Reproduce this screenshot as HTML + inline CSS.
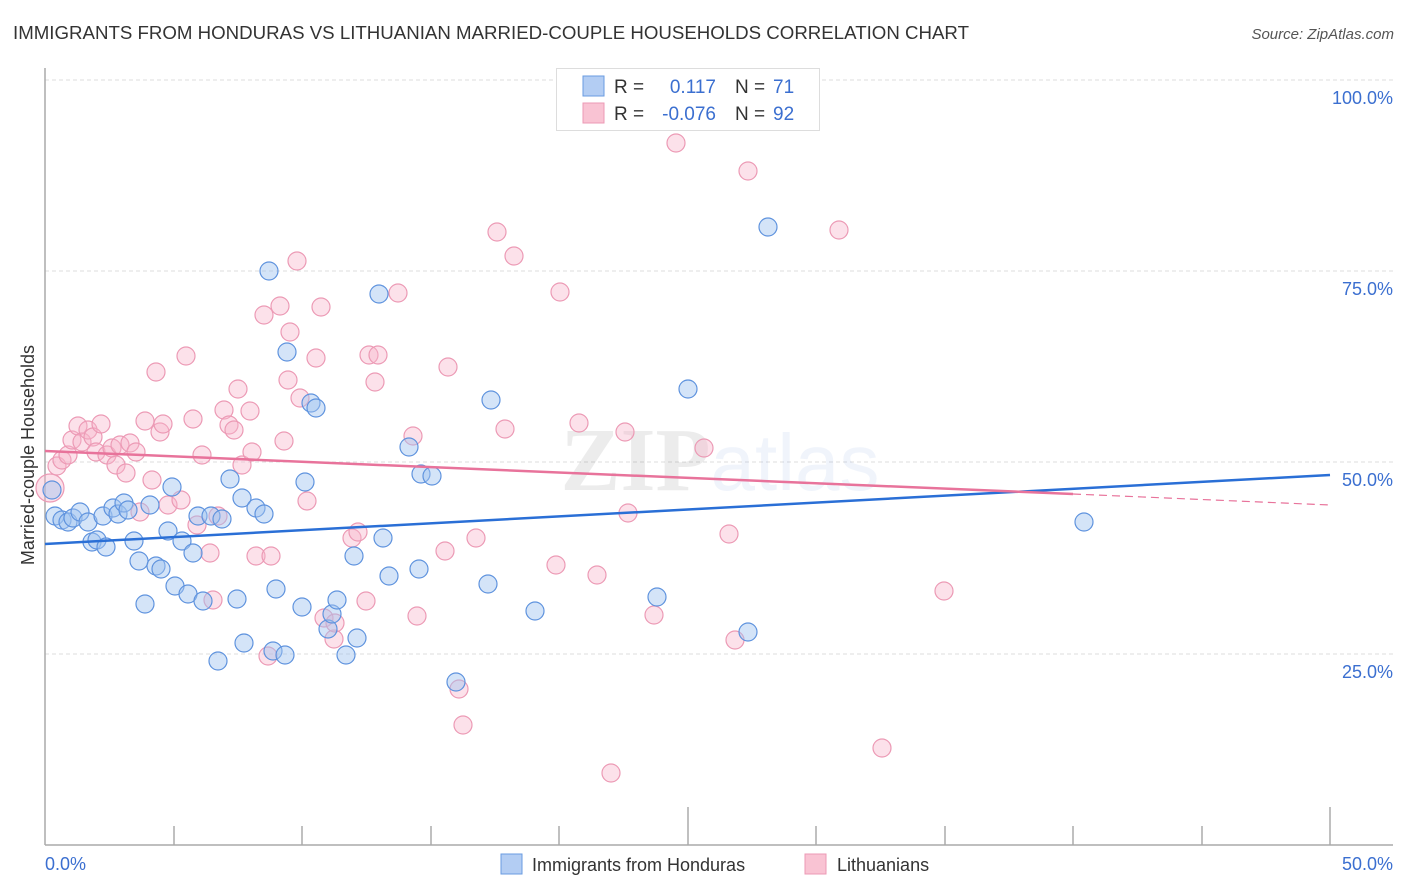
<!DOCTYPE html>
<html><head><meta charset="utf-8"><style>
html,body{margin:0;padding:0;background:#fff;}
svg{display:block;font-family:"Liberation Sans",sans-serif;}
</style></head><body>
<svg width="1406" height="892" viewBox="0 0 1406 892" xmlns="http://www.w3.org/2000/svg">
<text x="13" y="39" font-size="18" fill="#333" textLength="956" lengthAdjust="spacingAndGlyphs">IMMIGRANTS FROM HONDURAS VS LITHUANIAN MARRIED-COUPLE HOUSEHOLDS CORRELATION CHART</text>
<text x="1394" y="39" font-size="15" fill="#555" font-style="italic" text-anchor="end">Source: ZipAtlas.com</text>
<g stroke="#ddd" stroke-dasharray="4,3" stroke-width="1">
<line x1="45" y1="80" x2="1393" y2="80"/><line x1="45" y1="271" x2="1393" y2="271"/>
<line x1="45" y1="462" x2="1393" y2="462"/><line x1="45" y1="654" x2="1393" y2="654"/>
</g>
<line x1="45" y1="68" x2="45" y2="845" stroke="#aaa" stroke-width="1.5"/>
<line x1="45" y1="845" x2="1393" y2="845" stroke="#aaa" stroke-width="1.5"/>
<g stroke="#aaa" stroke-width="1.5">
<line x1="174" y1="826" x2="174" y2="845"/><line x1="302" y1="826" x2="302" y2="845"/><line x1="431" y1="826" x2="431" y2="845"/><line x1="559" y1="826" x2="559" y2="845"/><line x1="688" y1="807" x2="688" y2="845"/><line x1="816" y1="826" x2="816" y2="845"/><line x1="945" y1="826" x2="945" y2="845"/><line x1="1073" y1="826" x2="1073" y2="845"/><line x1="1202" y1="826" x2="1202" y2="845"/><line x1="1330" y1="807" x2="1330" y2="845"/>
</g>
<text x="720" y="490" font-size="90" fill="#000" opacity="0.07" text-anchor="middle" font-family="Liberation Serif,serif" font-weight="bold">ZIP<tspan font-family="Liberation Sans,sans-serif" font-weight="normal" fill="#3b6fd0" font-size="80">atlas</tspan></text>
<g fill="#3b6fd0" font-size="18" text-anchor="end">
<text x="1393" y="104">100.0%</text><text x="1393" y="295">75.0%</text><text x="1393" y="486">50.0%</text><text x="1393" y="678">25.0%</text><text x="1393" y="870">50.0%</text>
</g>
<text x="45" y="870" font-size="18" fill="#3b6fd0">0.0%</text>
<text transform="translate(34,455) rotate(-90)" font-size="18" fill="#333" text-anchor="middle">Married-couple Households</text>
<g fill="rgba(247,180,202,0.4)" stroke="#ec9ab5" stroke-width="1.2">
<circle cx="50" cy="488" r="14"/>
<circle cx="57" cy="466" r="9"/><circle cx="62" cy="460" r="9"/><circle cx="68" cy="455" r="9"/><circle cx="72" cy="440" r="9"/><circle cx="78" cy="426" r="9"/><circle cx="82" cy="442" r="9"/><circle cx="88" cy="430" r="9"/><circle cx="93" cy="437" r="9"/><circle cx="96" cy="452" r="9"/><circle cx="101" cy="424" r="9"/><circle cx="107" cy="455" r="9"/><circle cx="112" cy="448" r="9"/><circle cx="116" cy="465" r="9"/><circle cx="120" cy="445" r="9"/><circle cx="126" cy="473" r="9"/><circle cx="130" cy="443" r="9"/><circle cx="136" cy="452" r="9"/><circle cx="140" cy="512" r="9"/><circle cx="145" cy="421" r="9"/><circle cx="152" cy="480" r="9"/><circle cx="156" cy="372" r="9"/><circle cx="160" cy="432" r="9"/><circle cx="163" cy="424" r="9"/><circle cx="168" cy="505" r="9"/><circle cx="181" cy="500" r="9"/><circle cx="186" cy="356" r="9"/><circle cx="193" cy="419" r="9"/><circle cx="197" cy="525" r="9"/><circle cx="202" cy="455" r="9"/><circle cx="210" cy="553" r="9"/><circle cx="213" cy="600" r="9"/><circle cx="218" cy="516" r="9"/><circle cx="224" cy="410" r="9"/><circle cx="229" cy="425" r="9"/><circle cx="234" cy="430" r="9"/><circle cx="238" cy="389" r="9"/><circle cx="242" cy="465" r="9"/><circle cx="250" cy="411" r="9"/><circle cx="252" cy="452" r="9"/><circle cx="256" cy="556" r="9"/><circle cx="264" cy="315" r="9"/><circle cx="268" cy="656" r="9"/><circle cx="271" cy="556" r="9"/><circle cx="280" cy="306" r="9"/><circle cx="284" cy="441" r="9"/><circle cx="288" cy="380" r="9"/><circle cx="290" cy="332" r="9"/><circle cx="297" cy="261" r="9"/><circle cx="300" cy="398" r="9"/><circle cx="307" cy="501" r="9"/><circle cx="316" cy="358" r="9"/><circle cx="321" cy="307" r="9"/><circle cx="324" cy="618" r="9"/><circle cx="334" cy="639" r="9"/><circle cx="335" cy="623" r="9"/><circle cx="352" cy="538" r="9"/><circle cx="358" cy="532" r="9"/><circle cx="366" cy="601" r="9"/><circle cx="369" cy="355" r="9"/><circle cx="375" cy="382" r="9"/><circle cx="378" cy="355" r="9"/><circle cx="398" cy="293" r="9"/><circle cx="413" cy="436" r="9"/><circle cx="417" cy="616" r="9"/><circle cx="445" cy="551" r="9"/><circle cx="448" cy="367" r="9"/><circle cx="459" cy="689" r="9"/><circle cx="463" cy="725" r="9"/><circle cx="476" cy="538" r="9"/><circle cx="497" cy="232" r="9"/><circle cx="505" cy="429" r="9"/><circle cx="514" cy="256" r="9"/><circle cx="556" cy="565" r="9"/><circle cx="560" cy="292" r="9"/><circle cx="579" cy="423" r="9"/><circle cx="597" cy="575" r="9"/><circle cx="611" cy="773" r="9"/><circle cx="625" cy="432" r="9"/><circle cx="628" cy="513" r="9"/><circle cx="654" cy="615" r="9"/><circle cx="676" cy="143" r="9"/><circle cx="704" cy="448" r="9"/><circle cx="729" cy="534" r="9"/><circle cx="735" cy="640" r="9"/><circle cx="748" cy="171" r="9"/><circle cx="839" cy="230" r="9"/><circle cx="882" cy="748" r="9"/><circle cx="944" cy="591" r="9"/>
</g>
<g fill="rgba(160,195,240,0.45)" stroke="#5f93de" stroke-width="1.2">
<circle cx="52" cy="490" r="9"/><circle cx="55" cy="516" r="9"/><circle cx="62" cy="520" r="9"/><circle cx="68" cy="522" r="9"/><circle cx="73" cy="518" r="9"/><circle cx="80" cy="512" r="9"/><circle cx="88" cy="522" r="9"/><circle cx="92" cy="542" r="9"/><circle cx="97" cy="540" r="9"/><circle cx="103" cy="516" r="9"/><circle cx="106" cy="547" r="9"/><circle cx="113" cy="508" r="9"/><circle cx="118" cy="514" r="9"/><circle cx="124" cy="503" r="9"/><circle cx="128" cy="510" r="9"/><circle cx="134" cy="541" r="9"/><circle cx="139" cy="561" r="9"/><circle cx="145" cy="604" r="9"/><circle cx="150" cy="505" r="9"/><circle cx="156" cy="566" r="9"/><circle cx="161" cy="569" r="9"/><circle cx="168" cy="531" r="9"/><circle cx="172" cy="487" r="9"/><circle cx="175" cy="586" r="9"/><circle cx="182" cy="541" r="9"/><circle cx="188" cy="594" r="9"/><circle cx="193" cy="553" r="9"/><circle cx="198" cy="516" r="9"/><circle cx="203" cy="601" r="9"/><circle cx="211" cy="516" r="9"/><circle cx="218" cy="661" r="9"/><circle cx="222" cy="519" r="9"/><circle cx="230" cy="479" r="9"/><circle cx="237" cy="599" r="9"/><circle cx="242" cy="498" r="9"/><circle cx="244" cy="643" r="9"/><circle cx="256" cy="508" r="9"/><circle cx="264" cy="514" r="9"/><circle cx="269" cy="271" r="9"/><circle cx="273" cy="651" r="9"/><circle cx="276" cy="589" r="9"/><circle cx="285" cy="655" r="9"/><circle cx="287" cy="352" r="9"/><circle cx="302" cy="607" r="9"/><circle cx="305" cy="482" r="9"/><circle cx="311" cy="403" r="9"/><circle cx="316" cy="408" r="9"/><circle cx="328" cy="629" r="9"/><circle cx="332" cy="614" r="9"/><circle cx="337" cy="600" r="9"/><circle cx="346" cy="655" r="9"/><circle cx="354" cy="556" r="9"/><circle cx="357" cy="638" r="9"/><circle cx="379" cy="294" r="9"/><circle cx="383" cy="538" r="9"/><circle cx="389" cy="576" r="9"/><circle cx="409" cy="447" r="9"/><circle cx="419" cy="569" r="9"/><circle cx="421" cy="474" r="9"/><circle cx="432" cy="476" r="9"/><circle cx="456" cy="682" r="9"/><circle cx="488" cy="584" r="9"/><circle cx="491" cy="400" r="9"/><circle cx="535" cy="611" r="9"/><circle cx="657" cy="597" r="9"/><circle cx="688" cy="389" r="9"/><circle cx="748" cy="632" r="9"/><circle cx="768" cy="227" r="9"/><circle cx="1084" cy="522" r="9"/>
</g>
<line x1="45" y1="544" x2="1330" y2="475" stroke="#2a6fd6" stroke-width="2.5"/>
<line x1="45" y1="451" x2="1073" y2="494" stroke="#e8739b" stroke-width="2.5"/>
<line x1="1073" y1="494" x2="1330" y2="505" stroke="#e8739b" stroke-width="1.2" stroke-dasharray="8,5"/>
<rect x="556.5" y="68.5" width="263" height="62" fill="#fff" stroke="#ddd"/>
<rect x="583" y="76" width="21" height="20" fill="#b3cdf3" stroke="#6a9be0"/>
<rect x="583" y="103" width="21" height="20" fill="#f9c3d3" stroke="#ec9ab5"/>
<g font-size="19">
<text x="614" y="93" fill="#333">R =</text><text x="716" y="93" fill="#3b6fd0" text-anchor="end">0.117</text>
<text x="735" y="93" fill="#333">N =</text><text x="773" y="93" fill="#3b6fd0">71</text>
<text x="614" y="120" fill="#333">R =</text><text x="716" y="120" fill="#3b6fd0" text-anchor="end">-0.076</text>
<text x="735" y="120" fill="#333">N =</text><text x="773" y="120" fill="#3b6fd0">92</text>
</g>
<rect x="501" y="854" width="21" height="20" fill="#b3cdf3" stroke="#6a9be0"/>
<text x="532" y="871" font-size="18" fill="#333">Immigrants from Honduras</text>
<rect x="805" y="854" width="21" height="20" fill="#f9c3d3" stroke="#ec9ab5"/>
<text x="837" y="871" font-size="18" fill="#333">Lithuanians</text>
</svg>
</body></html>
